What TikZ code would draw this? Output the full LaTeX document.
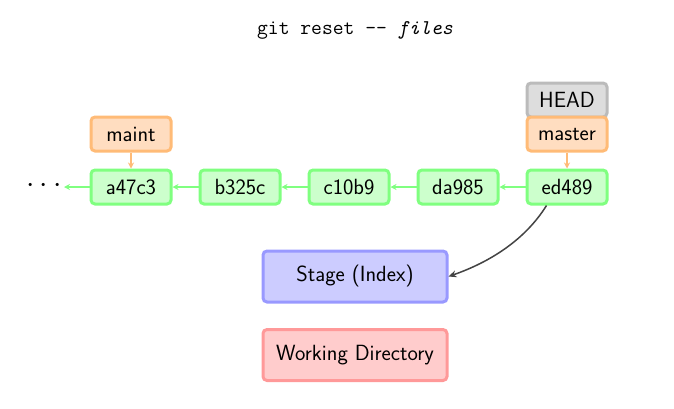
\documentclass[tikz,border=0pt]{standalone}
\usepackage{fontspec}
\usetikzlibrary{arrows.meta}
\begin{document}
\begin{tikzpicture}[x=1pt,y=-1pt,
  font=\sffamily\fontsize{22}{26}\selectfont,
  box/.style={rounded corners=4pt, line width=3pt, minimum width=80pt, minimum height=34pt, inner sep=0pt},
  commit/.style={box, fill={rgb,255:red,204;green,255;blue,204}, draw={rgb,255:red,128;green,255;blue,128}},
  branch/.style={box, fill={rgb,255:red,255;green,221;blue,192}, draw={rgb,255:red,255;green,187;blue,119}},
  headbox/.style={box, fill={rgb,255:red,221;green,221;blue,221}, draw={rgb,255:red,187;green,187;blue,187}},
  area/.style={box, minimum width=184pt, minimum height=51pt},
  parent/.style={draw={rgb,255:red,128;green,255;blue,128}, line width=1.5pt, -{Stealth[length=6pt,width=6pt]}},
  ref/.style={draw={rgb,255:red,255;green,187;blue,119}, line width=1.5pt, -{Stealth[length=6pt,width=6pt]}},
  flow/.style={draw={rgb,255:red,68;green,68;blue,68}, line width=1.5pt, -{Stealth[length=8pt,width=7pt]}}
]
\useasboundingbox (0,0) rectangle (674,408);

\node (title) at (355,30) {\ttfamily\fontsize{21}{25}\selectfont git reset -- \textit{files}};

\node[headbox] (head) at (567,100) {HEAD};
\node[branch] (master) at (567,134) {master};
\node[branch] (maint) at (131,134) {maint};

\node[commit] (a47c3) at (131,187) {a47c3};
\node[commit] (b325c) at (240,187) {b325c};
\node[commit] (c10b9) at (349,187) {c10b9};
\node[commit] (da985) at (458,187) {da985};
\node[commit] (ed489) at (567,187) {ed489};

\node[scale=1.45, inner sep=0pt] (dots) at (44,186) {$\cdots$};
\coordinate (tail) at (64,187);

\node[area, fill={rgb,255:red,204;green,204;blue,255}, draw={rgb,255:red,153;green,153;blue,255}] (stage) at (355,276.5) {Stage (Index)};
\node[area, fill={rgb,255:red,255;green,204;blue,204}, draw={rgb,255:red,255;green,153;blue,153}] (wd) at (355,355) {Working Directory};

\draw[parent] (a47c3) -- (tail);
\draw[parent] (b325c) -- (a47c3);
\draw[parent] (c10b9) -- (b325c);
\draw[parent] (da985) -- (c10b9);
\draw[parent] (ed489) -- (da985);

\draw[ref] (maint) -- (a47c3);
\draw[ref] (master) -- (ed489);

\draw[flow] (ed489.south west) ++(21,0) coordinate (from)
  (from) .. controls (525,240) and (490,262) .. (stage.east);
\end{tikzpicture}
\end{document}
